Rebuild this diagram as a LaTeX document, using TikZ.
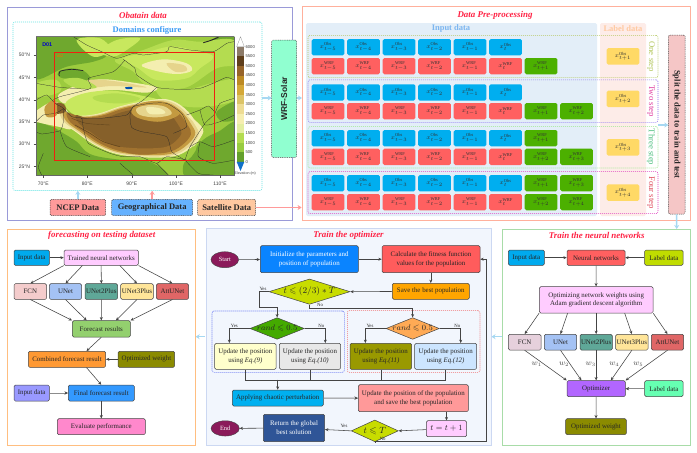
\documentclass[tikz,border=0pt]{standalone}
\usepackage{amsmath,amssymb}
\usepackage{fontspec}
\setmainfont{Liberation Serif}
\newfontfamily\mapfont{Liberation Sans}
\usetikzlibrary{arrows.meta,shapes.geometric,calc}
\definecolor{ttl}{HTML}{FF2244}
\definecolor{edgec}{HTML}{444444}
\definecolor{pale}{HTML}{A6D8F2}
\definecolor{pinkc}{HTML}{FF9A9A}
\definecolor{mbase}{HTML}{9CCB3E}
\definecolor{mdark}{HTML}{6FA82E}
\definecolor{mlight}{HTML}{B4DC50}
\definecolor{mpale}{HTML}{C8E85E}
\definecolor{mcream}{HTML}{F4EEB0}
\definecolor{msand}{HTML}{E6D48C}
\definecolor{mtan}{HTML}{C49A40}
\definecolor{mbrown}{HTML}{A0722F}
\definecolor{mdeep}{HTML}{86602A}
\tikzset{
  box/.style={draw=edgec,line width=.5pt,rounded corners=1.4pt,inner sep=0pt,align=center,font=\fontsize{6.9}{8.8}\selectfont,text=black!85},
  wbox/.style={box,text=white},
  cellbox/.style={rounded corners=1.6pt,inner sep=0pt,font=\fontsize{6.4}{7}\selectfont,text=black!80},
  dbox/.style={box,dash pattern=on 1pt off .8pt,font=\bfseries\fontsize{8.5}{10}\selectfont},
  panel/.style={line width=.8pt,inner sep=0pt},
  grp/.style={line width=.55pt,dash pattern=on 1pt off 1pt,rounded corners=2pt,inner sep=0pt},
  titlet/.style={font=\bfseries\itshape\fontsize{8.9}{10}\selectfont,text=ttl},
  arr/.style={draw=edgec,line width=.55pt,-{Stealth[length=3.4pt,width=3pt]}},
  ln/.style={draw=edgec,line width=.55pt},
  thickarr/.style={draw=black!45,line width=.9pt,-{Stealth[length=3.6pt,width=3.4pt,color=edgec]}},
  palearr/.style={draw=pale,line width=1.5pt,-{Stealth[length=4pt,width=5pt]}},
  pinkarr/.style={draw=pinkc,line width=1.5pt,-{Stealth[length=4pt,width=5pt]}},
  yn/.style={font=\fontsize{4.8}{5}\selectfont,inner sep=0pt,text=black!85},
  wlab/.style={font=\fontsize{7.6}{8}\selectfont,inner sep=0pt,text=black!70},
  dia/.style={diamond,draw=edgec,line width=.5pt,inner sep=0pt},
  dtxt/.style={inner sep=0pt,text=black!85},
  maplab/.style={font=\mapfont\fontsize{5}{5}\selectfont,text=black!75,inner sep=0pt},
  cblab/.style={font=\mapfont\fontsize{4.2}{4}\selectfont,text=black!75,inner sep=0pt,anchor=west},
  bd/.style={draw=black!85,line width=.24pt},
  hdr/.style={font=\bfseries\fontsize{8.5}{10}\selectfont,inner sep=0pt},
  steplab/.style={rotate=-90,font=\fontsize{8.7}{9}\selectfont,inner sep=0pt},
}
% name, x1,y1,x2,y2, fill(hex), style, text
\newcommand\bx[8]{\definecolor{bxf}{HTML}{#6}\node[#7,fill=bxf,minimum width={(#4-#2)*1pt},minimum height={(#5-#3)*1pt}] (#1) at ({(#2+#4)/2},{(#3+#5)/2}) {#8};}
% open box: draw colour instead of fill
\newcommand\ox[7]{\definecolor{bxd}{HTML}{#6}\node[#7,draw=bxd,minimum width={(#4-#2)*1pt},minimum height={(#5-#3)*1pt}] (#1) at ({(#2+#4)/2},{(#3+#5)/2}) {};}
% diamond: name x1 y1 x2 y2 fill text
\newcommand\dm[7]{\definecolor{bxf}{HTML}{#6}\pgfmathsetmacro\dasp{(#4-#2)/(#5-#3)}\node[dia,fill=bxf,shape aspect=\dasp,minimum width={(#4-#2)*1pt},minimum height={(#5-#3)*1pt}] (#1) at ({(#2+#4)/2},{(#3+#5)/2}) {};\node[dtxt] (#1t) at (#1.center) {#7};}
% column, top y, hex, sup, sub
\newcommand\cell[5]{\definecolor{bxf}{HTML}{#3}\node[cellbox,fill=bxf,minimum width=32.7pt,minimum height=16.3pt] at ({311.7+35.5*#1+16.35},{#2+8.15}) {$x_{#5}^{\mathrm{#4}}$};}
\newcommand\tier[2]{\fill[#1,shift={(380,385)},scale=#2] plot[smooth cycle,tension=.6] coordinates {(-190,-50)(-140,-35)(-80,-40)(-20,-60)(40,-73)(110,-80)(160,-55)(195,-10)(205,20)(175,55)(130,77)(50,80)(-30,70)(-90,45)(-140,10)(-180,-20)};}
\newcommand\blob[2]{\fill[#1] plot[smooth cycle,tension=.6] coordinates {#2};}
\newcommand\bord[1]{\draw[bd] plot[smooth,tension=.35] coordinates {#1};}
\begin{document}
\begin{tikzpicture}[x=1pt,y=-1pt]
\useasboundingbox (0,0) rectangle (697,453);
\fill[white] (0,0) rectangle (697,453);
% ---------- panels
\ox{pA}{7.5}{7}{292.5}{220}{9A9AD8}{panel}
\ox{pB}{302}{6.5}{690}{220.5}{FFB09C}{panel}
\ox{pC}{7.3}{229}{195.7}{445.7}{FFBE80}{panel}
\definecolor{pdd}{HTML}{CCD8F2}
\bx{pD}{206}{228.5}{491.5}{445}{F2F6FD}{panel,draw=pdd}{}
\ox{pE}{502.3}{229}{690}{445.7}{A8DCA8}{panel}
\node[titlet] (tA) at (143,15) {Obatain data};
\node[titlet] (tB) at (495,15) {Data Pre-processing};
\node[titlet] (tC) at (101.7,235.8) {forecasting on testing dataset};
\node[titlet] (tD) at (348.5,235.2) {Train the optimizer};
\node[titlet] (tE) at (596.7,235.2) {Train the neural networks};
% ---------- Obtain data
\ox{dom}{13}{22}{262}{190.5}{66E4E4}{grp}
\definecolor{dcfg}{HTML}{3A9BF5}
\node[hdr,text=dcfg] (tdom) at (147,30) {Domains configure};
% map
\begin{scope}
\clip (36,36.7) rectangle (234.3,175);
\begin{scope}[scale=1/3]
\fill[mbase] (108,110) rectangle (703,525);
% dark lowlands
\blob{mdark}{(100,100)(225,100)(285,130)(320,165)(280,185)(200,200)(100,235)}
\blob{mdark}{(100,380)(150,378)(190,400)(230,425)(270,462)(350,478)(450,485)(480,540)(100,540)}
\blob{mdark}{(610,420)(655,395)(720,370)(720,540)(570,540)(550,495)(575,470)}
\blob{mdark}{(625,135)(660,105)(720,100)(720,125)(670,145)}
\blob{mdark}{(175,215)(215,205)(255,215)(270,240)(220,238)(180,232)}
\blob{mdark}{(650,335)(720,300)(720,350)(670,365)}
% light north
\blob{mlight}{(345,180)(430,150)(520,120)(600,125)(700,120)(720,190)(650,205)(560,262)(480,262)(430,250)(400,215)}
\blob{mpale}{(370,175)(430,160)(510,140)(580,150)(640,170)(600,205)(560,235)(470,240)(415,205)}
\blob{mcream}{(425,195)(490,178)(560,190)(575,212)(530,222)(465,212)}
\blob{msand}{(500,190)(550,195)(560,212)(525,215)}
\blob{mpale}{(300,155)(350,120)(420,115)(380,150)(340,170)}
\blob{mlight}{(470,262)(560,268)(640,248)(720,238)(720,295)(600,322)(500,305)}
\blob{mpale}{(230,120)(300,115)(330,150)(280,170)}
\blob{mlight}{(110,250)(170,240)(180,275)(110,290)}
% lower-left sand & Tian Shan
\blob{mcream}{(100,340)(160,305)(200,330)(215,385)(175,380)(100,362)}
\blob{mcream}{(175,285)(240,252)(300,238)(380,245)(470,262)(440,278)(340,270)(260,282)(200,312)}
\blob{msand}{(265,240)(340,243)(440,262)(340,258)(270,262)}
\blob{mlight}{(190,240)(240,235)(290,262)(230,265)}
% Tarim basin
\blob{mpale}{(195,312)(245,282)(335,272)(430,288)(478,303)(400,318)(300,350)(235,350)}
\blob{mlight}{(280,290)(350,280)(420,295)(370,310)(300,305)}
% plateau tiers
\tier{mcream}{1.09}
\tier{msand}{1.05}
\tier{mtan}{1.0}
\tier{mbrown}{.94}
\tier{mdeep}{.8}
\blob{mbrown}{(330,440)(420,445)(500,440)(545,410)(560,385)(530,430)(470,460)(400,462)}
% Qaidam
\blob{mtan}{(395,325)(440,305)(500,308)(540,340)(480,365)(410,352)}
\blob{msand}{(410,325)(450,315)(495,320)(515,342)(470,352)(420,345)}
\blob{mcream}{(440,322)(480,325)(495,340)(450,342)}
% right slope
\blob{mcream}{(560,345)(590,365)(610,395)(580,440)(600,390)}
\blob{mdark}{(590,440)(625,412)(660,425)(640,465)(600,465)}
\blob{mdeep}{(250,355)(300,375)(290,395)(250,385)}
\blob{mdeep}{(160,310)(190,312)(197,335)(165,340)}
\blob{mtan}{(135,320)(165,300)(170,345)(140,350)}
% snow ridges
\draw[black!40!mbrown,line width=.5pt] plot[smooth] coordinates {(225,375)(270,400)(310,425)(360,440)};
\draw[black!40!mbrown,line width=.4pt] plot[smooth] coordinates {(215,355)(260,370)(330,375)};
% lakes
\fill[blue!55!cyan!70!black] plot[smooth cycle] coordinates {(375,262)(395,261)(397,266)(380,267)};
\draw[black!85,line width=.7pt] plot[smooth] coordinates {(178,228)(180,214)(215,208)(250,212)};
\draw[black!85,line width=.9pt] plot[smooth] coordinates {(610,128)(630,122)(655,112)};
% borders
\bord{(220,110)(260,135)(305,155)(350,175)(400,160)(430,165)(500,155)(510,140)(570,150)(640,155)(680,130)(703,125)}
\bord{(370,178)(405,205)(410,225)(470,262)(540,268)(600,265)(650,245)(680,232)(703,240)}
\bord{(375,180)(340,215)(265,235)(272,265)(180,290)(160,300)}
\bord{(108,250)(180,262)(265,268)}
\bord{(108,300)(140,285)(165,310)(190,325)(165,340)(130,345)(108,365)}
\bord{(470,262)(430,300)(400,320)(390,345)(395,382)(425,395)(500,410)(515,455)(555,480)}
\bord{(245,355)(300,355)(380,345)(400,320)(450,310)(500,310)(545,340)(560,380)(520,400)}
\bord{(190,325)(215,350)(245,355)(250,385)(265,430)(330,460)(370,470)(420,470)(470,490)(500,470)(560,480)}
\bord{(108,395)(125,402)(180,392)(190,365)(190,325)}
\bord{(180,392)(200,440)(270,470)}
\bord{(560,345)(600,330)(625,318)(645,340)(615,370)(570,440)(555,480)}
\bord{(600,330)(615,375)(660,365)(703,345)}
\bord{(645,340)(660,310)(703,295)}
\bord{(570,440)(600,425)(640,440)(703,420)}
\bord{(600,425)(595,470)(640,490)(703,480)}
\bord{(555,480)(595,520)(640,525)}
\bord{(360,490)(400,525)}
\bord{(470,490)(505,525)}
\bord{(130,460)(115,500)(125,525)}
\end{scope}
\end{scope}
\draw[black!55,line width=.7pt] (36,36.7) -- (234.3,36.7);
\draw[black!60,line width=.4pt] (234.3,36.7) -- (234.3,175) -- (36,175) -- (36,36.7);
\definecolor{dred}{HTML}{F02010}
\draw[dred,line width=.7pt] (54.2,52.5) rectangle (214,160.3);
\node[font=\mapfont\bfseries\fontsize{5.4}{6}\selectfont,text=blue!80!black,inner sep=0pt] (d1) at (47.3,44.7) {D01};
\node[font=\mapfont\fontsize{3.8}{4}\selectfont,text=orange!80!red,inner sep=0pt] (d2) at (60,56) {d02};
\foreach \y/\l in {55/50,77.3/45,99.7/40,122/35,144/30,166.3/25}{
  \node[maplab,anchor=east] at (30.2,\y) {\l°N};
  \draw[black!70,line width=.3pt] (33.5,\y) -- (36,\y);}
\foreach \x/\l in {43.3/70,87.3/80,131.7/90,176/100,220/110}{
  \node[maplab] at (\x,183.7) {\l°E};
  \draw[black!70,line width=.3pt] (\x,175) -- (\x,177.5);}
% colour bar
\foreach \i/\c in {0/8C7A68,1/5F3F1C,2/96642A,3/BC8A24,4/D4A838,5/DCC468,6/EEDC94,7/F6EEB0,8/E4EEA0,9/B4DC50,10/98CC40,11/64A02C}{
  \definecolor{sg}{HTML}{\c}
  \fill[sg] (236.7,{46.7+9.6*\i}) rectangle (244.3,{46.7+9.6*(\i+1)});}
\draw[black!50,line width=.2pt,fill=white] (236.7,46.7) -- (240.5,36.7) -- (244.3,46.7) -- cycle;
\definecolor{cbb}{HTML}{1070C8}
\fill[cbb] (236.7,161.9) -- (240.5,171) -- (244.3,161.9) -- cycle;
\foreach \i/\l in {0/6000,1/5500,2/5000,3/4500,4/4000,5/3500,6/3000,7/2500,8/2000,9/1500,10/1000,11/500,12/0}{
  \node[cblab] at (245.3,{46.7+9.6*\i}) {\l};}
\node[maplab,font=\mapfont\fontsize{3.6}{4}\selectfont,anchor=west] (elev) at (234.5,174) {Elevation (m)};
% data sources
\bx{ncep}{50}{199.3}{105.7}{215.7}{FF9A9A}{dbox}{NCEP Data}
\bx{geo}{111.7}{199.3}{192.7}{215.7}{66B2FF}{dbox}{Geographical Data}
\bx{sat}{197.7}{199.3}{255.7}{215.7}{FFC8A0}{dbox}{Satellite Data}
\bx{wrf}{271.7}{40}{296.7}{157.3}{90FFD0}{dbox}{\rotatebox{90}{\mapfont WRF-Solar}}
\draw[palearr] (ncep.north) -- (ncep.north |- dom.south);
\draw[pinkarr] (geo.north) -- (geo.north |- dom.south);
\draw[pinkarr] (sat.east) -- (sat.east -| pB.west);
\coordinate (dr) at (262,98);
\coordinate (wl) at (271.7,98);
\coordinate (wr) at (296.7,98);
\coordinate (br) at (302,98);
\draw[palearr] (dr) -- (wl);
\draw[palearr] (wr) -- (br);
% ---------- Data pre-processing
\bx{inbg}{306}{23}{597}{216}{E3EEF8}{cellbox}{}
\bx{labg}{600}{23}{646}{216}{FDECE8}{cellbox}{}
\definecolor{ihd}{HTML}{7CB6F0}
\definecolor{lhd}{HTML}{FFC9A0}
\node[hdr,text=ihd] (tin) at (451,28.5) {Input data};
\node[hdr,text=lhd] (tla) at (623,28.5) {Label data};
\ox{g1}{308}{35.3}{658}{77.7}{B5C860}{grp}
\ox{g2}{308}{79.8}{658}{122.3}{8A70F0}{grp}
\ox{g3}{308}{126.7}{658}{168}{9AE88A}{grp}
\ox{g4}{308}{171.7}{658}{213.7}{E040C0}{grp}
\foreach \ya/\yb in {39/58,84.3/103,130/148.7,175/194}{
  \foreach \c/\s in {0/t-5,1/t-4,2/t-3,3/t-2,4/t-1,5/t}{
    \cell{\c}{\ya}{00AEEF}{Obs}{\s}
    \cell{\c}{\yb}{FF6060}{WRF}{\s}
  }
}
\cell{6}{58}{4CB000}{WRF}{t+1}
\cell{6}{103}{4CB000}{WRF}{t+1}
\cell{7}{103}{4CB000}{WRF}{t+2}
\cell{6}{130}{4CB000}{WRF}{t+1}
\cell{6}{148.7}{4CB000}{WRF}{t+2}
\cell{7}{148.7}{4CB000}{WRF}{t+3}
\cell{6}{175}{4CB000}{WRF}{t+1}
\cell{7}{175}{4CB000}{WRF}{t+3}
\cell{6}{194}{4CB000}{WRF}{t+2}
\cell{7}{194}{4CB000}{WRF}{t+4}
\foreach \y/\s in {48/t+1,90.5/t+2,139/t+3,184.3/t+4}{
  \definecolor{bxf}{HTML}{FFD966}
  \node[cellbox,fill=bxf,minimum width=32.7pt,minimum height=16.6pt] at (623,{\y+8.3}) {$x_{\s}^{\mathrm{Obs}}$};}
\definecolor{s1}{HTML}{B5C860}\definecolor{s2}{HTML}{E040A0}\definecolor{s3}{HTML}{50C080}\definecolor{s4}{HTML}{E05060}
\node[steplab,text=s1] (l1) at (651,56.7) {One step};
\node[steplab,text=s2] (l2) at (651,101) {Two step};
\node[steplab,text=s3] (l3) at (651,147) {Three step};
\node[steplab,text=s4] (l4) at (651,192.5) {Four step};
\bx{split}{668.3}{35}{685}{214}{F5C6C6}{dbox}{\rotatebox{-90}{Split the data to train and test}}
\coordinate (gr) at (658,125);
\coordinate (sl) at (668.3,125);
\draw[palearr] (gr) -- (sl);
\coordinate (pe) at (676.7,229);
\draw[palearr] (split.south) -- (pe);
% ---------- forecasting
\bx{a1}{14}{250}{49.3}{265.3}{00AAEE}{box}{Input data}
\bx{a2}{64}{250}{138.3}{265.3}{FFCCFF}{box}{Trained neural networks}
\bx{a3}{14}{283.7}{46.7}{299.3}{F4CCCC}{box}{FCN}
\bx{a4}{49.3}{283.7}{81.7}{299.3}{A4C2F4}{box}{UNet}
\bx{a5}{85}{283.7}{117.7}{299.3}{5FA898}{box}{UNet2Plus}
\bx{a6}{120.7}{283.7}{153.3}{299.3}{FFE599}{box}{UNet3Plus}
\bx{a7}{156.3}{283.7}{188.7}{299.3}{E06666}{box}{AttUNet}
\bx{a8}{72.3}{320.7}{130.3}{337}{93D06E}{box}{Forecast results}
\bx{a9}{28.3}{351.3}{105.7}{367.3}{FF9933}{box}{Combined forecast result}
\bx{a10}{118}{351.3}{174.7}{367.3}{8B8B00}{box}{Optimized weight}
\bx{a11}{14}{385}{49.3}{401}{9999FF}{box}{Input data}
\bx{a12}{68.3}{385}{134.3}{401}{3399FF}{box}{Final forecast result}
\bx{a13}{57.3}{418.7}{145.3}{434.7}{FF88CC}{box}{Evaluate performance}
\draw[arr] (a1) -- (a2);
\draw[arr] (a2.south west) -- (a3.north);
\draw[arr] ($(a2.south west)!.25!(a2.south east)$) -- (a4.north);
\draw[arr] (a2.south) -- (a5.north);
\draw[arr] ($(a2.south west)!.75!(a2.south east)$) -- (a6.north);
\draw[arr] (a2.south east) -- (a7.north);
\draw[arr] (a3.south) -- (a8.north west);
\draw[arr] (a4.south) -- ($(a8.north west)!.25!(a8.north east)$);
\draw[arr] (a5.south) -- (a8.north);
\draw[arr] (a6.south) -- ($(a8.north west)!.75!(a8.north east)$);
\draw[arr] (a7.south) -- (a8.north east);
\draw[arr] (a8.south) -- ($(a9.north west)!.75!(a9.north east)$);
\draw[arr] (a10) -- (a9);
\draw[arr] ($(a9.south west)!.75!(a9.south east)$) -- (a12.north);
\draw[thickarr] (a11) -- (a12);
\draw[arr] (a12) -- (a13);
% ---------- optimizer
\ox{gb}{212}{311}{344.3}{372.3}{5060F0}{grp}
\ox{gr2}{347.3}{310.7}{480}{372.3}{F07070}{grp}
\definecolor{plum}{HTML}{8B1A5A}
\node[ellipse,draw=edgec,line width=.4pt,fill=plum,text=white,minimum width=27.7pt,minimum height=16pt,inner sep=0pt,font=\fontsize{6.4}{7}\selectfont] (start) at (224.8,259.7) {Start};
\bx{init}{260.3}{245.7}{358.3}{272.7}{0A84FF}{wbox}{Initialize the parameters and\\position of population}
\bx{calc}{382}{245.7}{480}{272.7}{FF5C5C}{box}{Calculate the fitness function\\values for the population}
\bx{save}{392.3}{283.3}{469.3}{299.3}{FFA500}{box}{Save the best population}
\dm{d1m}{269}{279}{350}{304.3}{C8DC00}{\fontsize{9}{10}\selectfont$t\leqslant(2/3)*T$}
\dm{d2m}{250}{317.7}{304.3}{339.3}{44AA00}{\fontsize{8.5}{10}\selectfont$rand\leqslant 0.5$}
\dm{d3m}{386}{317.7}{439.3}{339.3}{FFAA55}{\fontsize{8.5}{10}\selectfont$rand\leqslant 0.5$}
\bx{ua}{214.7}{343.3}{276}{369.3}{FFFFCC}{box}{Update the position\\using \emph{Eq.(9)}}
\bx{ub}{279.3}{343.3}{340.7}{369.3}{E8E8E8}{box}{Update the position\\using \emph{Eq.(10)}}
\bx{uc}{350}{343.3}{411.7}{369.3}{999900}{box}{Update the position\\using \emph{Eq.(11)}}
\bx{ud}{414.7}{343.3}{476.7}{369.3}{CCE5FF}{box}{Update the position\\using \emph{Eq.(12)}}
\bx{chaos}{232.3}{390}{323.3}{406}{00B0F0}{box}{Applying chaotic perturbation}
\bx{upd}{358.3}{384.7}{468.3}{411.7}{FF9999}{box}{Update the position of the population\\and save the best population}
\bx{tinc}{426.3}{420.7}{466.7}{436.7}{FFCCFF}{box}{\fontsize{8}{9}\selectfont$t=t+1$}
\dm{d4m}{351.3}{420}{398.3}{441.7}{C8DC00}{\fontsize{9.5}{10}\selectfont$t\leqslant T$}
\bx{ret}{263.3}{414.3}{324.7}{441.7}{2F5597}{wbox}{Return the global\\best solution}
\node[ellipse,draw=edgec,line width=.4pt,fill=plum,text=white,minimum width=28.3pt,minimum height=15.3pt,inner sep=0pt,font=\fontsize{6.4}{7}\selectfont] (endn) at (225.2,428.4) {End};
\draw[arr] (start) -- (init);
\draw[arr] (init) -- (calc);
\draw[arr] (save.north |- calc.south) -- (save.north);
\draw[arr] (save) -- (d1m.east);
% diamond 1 branches
\coordinate (b1) at (259.3,290.4);
\coordinate (b2) at (259.3,307.7);
\draw[arr] (d1m.west) -- (d1m.west -| b1) -- (b2) -| (d2m.north);
\coordinate (b3) at (309.3,308);
\draw[arr] (d1m.south) -- (d1m.south |- b3) -| (d3m.north);
\node[yn] (yy1) at (263,289) {Yes};
\node[yn] (nn1) at (320,305.3) {No};
% diamond 2
\draw[arr] (d2m.west) -| ($(ua.north)+(-16,0)$);
\draw[arr] (d2m.east) -| ($(ub.north)+(15.3,0)$);
\draw[arr] (d3m.west) -| ($(uc.north)+(-15.5,0)$);
\draw[arr] (d3m.east) -| ($(ud.north)+(15,0)$);
\node[yn] (yy2) at (234.3,326) {Yes};
\node[yn] (nn2) at (321.3,326) {No};
\node[yn] (yy3) at (370,326) {Yes};
\node[yn] (nn3) at (457.3,326) {No};
% merge
\coordinate (mg) at (277.7,379.7);
\draw[ln] ($(ua.south)+(-.3,0)$) |- ($(ud.south)+(0,10.4)$) -- (ud.south);
\draw[ln] (ub.south) -- (ub.south |- mg);
\draw[ln] (uc.south) -- (uc.south |- mg);
\draw[arr] (mg) -- (mg |- chaos.north);
\draw[thickarr] (chaos) -- (upd);
\draw[arr] (upd.south -| tinc) -- (tinc);
\draw[arr] (tinc) -- (d4m.east);
\draw[arr] (d4m.west) -- (ret);
\draw[arr] (ret) -- (endn);
\coordinate (lp1) at (486.7,441.7);
\draw[arr] (d4m.south) -- (d4m.south |- lp1) -- (lp1) |- (calc.east);
\node[yn] (yy4) at (344,426) {Yes};
\node[yn] (nn4) at (382.7,439) {No};
% ---------- neural networks
\bx{n1}{508.3}{250}{544.3}{265.3}{00AAEE}{box}{Input data}
\bx{n2}{567}{250}{625}{265.3}{FF6060}{box}{Neural networks}
\bx{n3}{644.7}{250}{683}{265.3}{C0DC00}{box}{Label data}
\bx{n4}{539.3}{286.7}{653}{313}{FFCCFF}{box}{Optimizing network weights using\\Adam gradient descent algorithm}
\bx{n5}{508.3}{334.3}{541}{350}{E6D0DC}{box}{FCN}
\bx{n6}{544.3}{334.3}{576.7}{350}{A4C2F4}{box}{UNet}
\bx{n7}{580}{334.3}{612.3}{350}{5FA898}{box}{UNet2Plus}
\bx{n8}{615.7}{334.3}{648}{350}{FFE599}{box}{UNet3Plus}
\bx{n9}{651.3}{334.3}{683.7}{350}{E06666}{box}{AttUNet}
\bx{n10}{567}{380.7}{625.3}{396.7}{B266FF}{box}{Optimizer}
\bx{n11}{644.7}{380.7}{683}{396.7}{66FFB2}{box}{Label data}
\bx{n12}{565.7}{418.7}{626.3}{434.7}{8B8B00}{box}{Optimized weight}
\draw[arr] (n1) -- (n2);
\draw[arr] (n3) -- (n2);
\draw[arr] (n2) -- (n4);
\draw[arr] (n4.south west) -- (n5.north);
\draw[arr] ($(n4.south west)!.25!(n4.south east)$) -- (n6.north);
\draw[arr] (n4.south) -- (n7.north);
\draw[arr] ($(n4.south west)!.75!(n4.south east)$) -- (n8.north);
\draw[arr] (n4.south east) -- (n9.north);
\draw[arr] (n5.south) -- (n10.north west);
\draw[arr] (n6.south) -- ($(n10.north west)!.25!(n10.north east)$);
\draw[arr] (n7.south) -- (n10.north);
\draw[arr] (n8.south) -- ($(n10.north west)!.75!(n10.north east)$);
\draw[arr] (n9.south) -- (n10.north east);
\draw[thickarr] (n11) -- (n10);
\draw[arr] (n10) -- (n12);
\node[wlab] (w1) at (536.7,364) {$w_1$};
\node[wlab] (w2) at (564,364) {$w_2$};
\node[wlab] (w3) at (590.7,364) {$w_3$};
\node[wlab] (w4) at (614.3,364) {$w_4$};
\node[wlab] (w5) at (638.3,364) {$w_5$};
% between panels
\coordinate (pc1) at (205,336.7);
\coordinate (pc2) at (195.7,336.7);
\coordinate (pd1) at (502.3,336.7);
\coordinate (pd2) at (491.5,336.7);
\draw[palearr] (pc1) -- (pc2);
\draw[palearr] (pd1) -- (pd2);
\end{tikzpicture}
\end{document}
